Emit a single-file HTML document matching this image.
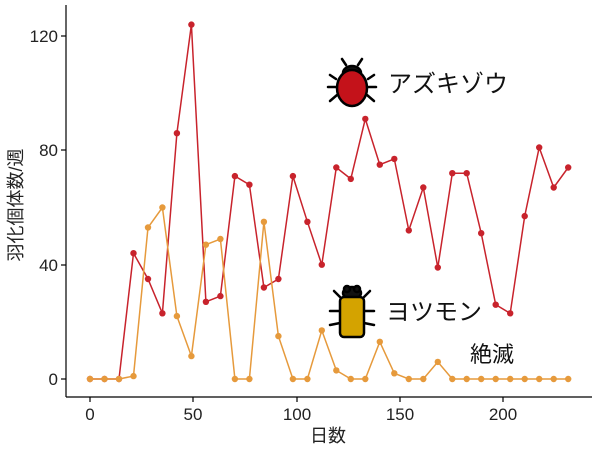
<!DOCTYPE html>
<html><head><meta charset="utf-8"><style>
body{margin:0;background:#fff}
svg{display:block;font-family:"Liberation Sans","Noto Sans CJK JP",sans-serif}
</style></head><body>
<svg id="s" width="600" height="450" viewBox="0 0 600 450">
<rect width="600" height="450" fill="#fff"/>
<line x1="66" y1="5" x2="66" y2="397" stroke="#000" stroke-width="1.2"/>
<line x1="66" y1="397" x2="592" y2="397" stroke="#000" stroke-width="1.2"/>
<g stroke="#000" stroke-width="1.2">
<line x1="61" y1="36" x2="66" y2="36"/><line x1="61" y1="150" x2="66" y2="150"/><line x1="61" y1="265" x2="66" y2="265"/><line x1="61" y1="379" x2="66" y2="379"/>
<line x1="90" y1="397" x2="90" y2="402"/><line x1="193" y1="397" x2="193" y2="402"/><line x1="297" y1="397" x2="297" y2="402"/><line x1="400" y1="397" x2="400" y2="402"/><line x1="503" y1="397" x2="503" y2="402"/>
</g>
<g font-size="17" fill="#222" text-anchor="end">
<text x="58" y="42">120</text><text x="58" y="156">80</text><text x="58" y="271">40</text><text x="58" y="385">0</text>
</g>
<g font-size="17" fill="#222" text-anchor="middle">
<text x="90" y="420">0</text><text x="193" y="420">50</text><text x="297" y="420">100</text><text x="400" y="420">150</text><text x="503" y="420">200</text>
<text x="328" y="442" font-size="18">日数</text>
<text transform="translate(22,205) rotate(-90)" font-size="18">羽化個体数/週</text>
</g>
<g id="plot"></g>
<g transform="translate(352,85)" stroke="#000" stroke-width="2.5" stroke-linecap="round">
<line x1="-16" y1="-6" x2="-22" y2="-10"/><line x1="16" y1="-6" x2="22" y2="-10"/>
<line x1="-16" y1="2" x2="-24" y2="2"/><line x1="16" y1="2" x2="24" y2="2"/>
<line x1="-15" y1="10" x2="-22" y2="16"/><line x1="15" y1="10" x2="22" y2="16"/>
<line x1="-6" y1="-20" x2="-10" y2="-26"/><line x1="6" y1="-20" x2="10" y2="-26"/>
<ellipse cx="0" cy="-12" rx="9" ry="7" fill="#111"/>
<ellipse cx="0" cy="3" rx="15" ry="18" fill="#c4121a"/>
</g>
<text x="388" y="92" font-size="24" fill="#111">アズキゾウ</text>
<g transform="translate(352,313)" stroke="#000" stroke-width="2.5" stroke-linecap="round">
<line x1="-12" y1="-16" x2="-18" y2="-22"/><line x1="12" y1="-16" x2="18" y2="-22"/>
<line x1="-12" y1="-2" x2="-22" y2="-2"/><line x1="12" y1="-2" x2="22" y2="-2"/>
<line x1="-12" y1="10" x2="-22" y2="12"/><line x1="12" y1="10" x2="22" y2="12"/>
<ellipse cx="0" cy="-20" rx="9" ry="6" fill="#111"/>
<circle cx="-5" cy="-24" r="3" fill="#111"/><circle cx="5" cy="-24" r="3" fill="#111"/>
<rect x="-12" y="-16" width="24" height="40" rx="4" fill="#d4a300"/>
</g>
<text x="386" y="320" font-size="24" fill="#111">ヨツモン</text>
<text x="470" y="362" font-size="22" fill="#111">絶滅</text>
</svg>
<script>
var red=[0,0,0,44,35,23,86,124,27,29,71,68,32,35,71,55,40,74,70,91,75,77,52,67,39,72,72,51,26,23,57,81,67,74];
var org=[0,0,0,1,53,60,22,8,47,49,0,0,55,15,0,0,17,3,0,0,13,2,0,0,6,0,0,0,0,0,0,0,0,0];
function X(i){return 90+i*7*2.07}function Y(v){return 379-v*2.858}
function ser(d,c){var p=d.map(function(v,i){return X(i).toFixed(1)+","+Y(v).toFixed(1)}).join(" ");
var s='<polyline points="'+p+'" fill="none" stroke="'+c+'" stroke-width="1.5"/>';
d.forEach(function(v,i){s+='<circle cx="'+X(i).toFixed(1)+'" cy="'+Y(v).toFixed(1)+'" r="3.2" fill="'+c+'"/>'});return s;}
document.getElementById('plot').innerHTML=ser(red,'#c8232c')+ser(org,'#e69a3c');
</script>
</body></html>
